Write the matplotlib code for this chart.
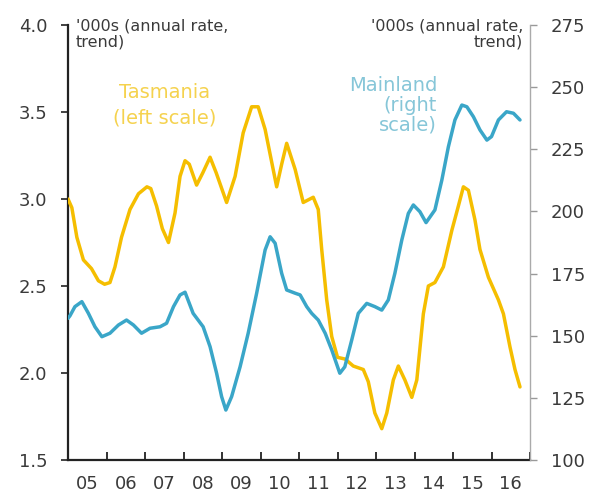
import matplotlib
matplotlib.use("Agg")
import matplotlib.pyplot as plt
from matplotlib.ticker import FixedLocator, NullFormatter, FixedFormatter

# Tasmania (left scale), '000s annual rate, trend
tas_x = [2005.00, 2005.10, 2005.23, 2005.40, 2005.61, 2005.79, 2005.95, 2006.09, 2006.22, 2006.39,
         2006.61, 2006.83, 2007.05, 2007.15, 2007.30, 2007.45, 2007.61, 2007.78, 2007.91, 2008.04,
         2008.15, 2008.34, 2008.50, 2008.69, 2008.85, 2009.12, 2009.34, 2009.55, 2009.77, 2009.94,
         2010.12, 2010.42, 2010.55, 2010.68, 2010.90, 2011.11, 2011.37, 2011.50, 2011.59, 2011.72,
         2011.85, 2012.00, 2012.20, 2012.41, 2012.67, 2012.80, 2012.97, 2013.15, 2013.28, 2013.45,
         2013.58, 2013.75, 2013.93, 2014.06, 2014.23, 2014.36, 2014.53, 2014.75, 2014.97, 2015.14,
         2015.27, 2015.40, 2015.57, 2015.70, 2015.92, 2016.18, 2016.31, 2016.48, 2016.61, 2016.74]
tas_y = [3.00, 2.95, 2.78, 2.65, 2.60, 2.53, 2.51, 2.52, 2.61, 2.78,
         2.94, 3.03, 3.07, 3.06, 2.96, 2.83, 2.75, 2.92, 3.13, 3.22,
         3.20, 3.08, 3.15, 3.24, 3.15, 2.98, 3.13, 3.38, 3.53, 3.53,
         3.40, 3.07, 3.20, 3.32, 3.17, 2.98, 3.01, 2.94, 2.71, 2.42,
         2.21, 2.09, 2.08, 2.04, 2.02, 1.95, 1.77, 1.68, 1.77, 1.96,
         2.04, 1.96, 1.86, 1.96, 2.34, 2.50, 2.52, 2.61, 2.82, 2.96,
         3.07, 3.05, 2.88, 2.71, 2.55, 2.42, 2.34, 2.15, 2.02, 1.92]

# Mainland (right scale)
main_x = [2005.00, 2005.05, 2005.18, 2005.36, 2005.53, 2005.70, 2005.88, 2006.09, 2006.31, 2006.52,
          2006.70, 2006.91, 2007.13, 2007.39, 2007.56, 2007.74, 2007.91, 2008.04, 2008.25, 2008.38,
          2008.51, 2008.69, 2008.86, 2008.99, 2009.10, 2009.25, 2009.47, 2009.68, 2009.90, 2010.12,
          2010.25, 2010.38, 2010.55, 2010.68, 2010.90, 2011.03, 2011.20, 2011.33, 2011.50, 2011.68,
          2011.85, 2012.06, 2012.19, 2012.37, 2012.54, 2012.76, 2012.97, 2013.15, 2013.32, 2013.49,
          2013.67, 2013.84, 2013.97, 2014.14, 2014.30, 2014.53, 2014.71, 2014.88, 2015.05, 2015.23,
          2015.36, 2015.53, 2015.70, 2015.88, 2016.00, 2016.18, 2016.39, 2016.57, 2016.74]
main_y = [157.0, 158.0, 161.7, 163.7, 159.0, 153.6, 149.6, 151.0, 154.3, 156.3,
          154.3, 151.0, 153.0, 153.6, 155.0, 161.7, 166.4, 167.5, 159.0, 156.3,
          153.6, 145.6, 134.9, 125.5, 120.1, 125.5, 137.5, 151.0, 167.1, 184.5,
          189.8, 187.2, 175.1, 168.4, 167.1, 166.4, 161.7, 159.0, 156.3, 151.0,
          144.3, 134.9, 137.5, 148.3, 159.0, 163.0, 161.7, 160.3, 164.4, 175.1,
          188.5, 199.2, 202.6, 199.9, 195.5, 200.6, 212.6, 226.0, 236.8, 242.8,
          242.1, 238.1, 232.8, 228.7, 230.1, 236.8, 240.1, 239.5, 236.8]

years = list(range(2005, 2018))
year_labels = ["05", "06", "07", "08", "09", "10", "11", "12", "13", "14", "15", "16"]
left_ticks = [1.5, 2.0, 2.5, 3.0, 3.5, 4.0]
right_ticks = [100, 125, 150, 175, 200, 225, 250, 275]

TAS = "#F5BE00"
MAIN = "#3AA6C8"
TXT = "#3a3a3a"

plt.rcParams['font.family'] = ['DejaVu Sans']

fig = plt.figure(figsize=(5.98, 4.97), dpi=100)
ax = fig.add_axes([68/598, 37/497, 462/598, 435/497])
ax2 = ax.twinx()

ax.plot(tas_x, tas_y, color=TAS, lw=2.5, solid_joinstyle='round', solid_capstyle='round', zorder=3)
ax2.plot(main_x, main_y, color=MAIN, lw=2.5, solid_joinstyle='round', solid_capstyle='round', zorder=3)

ax.set_xlim(2005, 2017)
ax.set_ylim(1.5, 4.0)
ax2.set_ylim(100, 275)

# x axis: ticks at year boundaries, labels mid-year
ax.xaxis.set_major_locator(FixedLocator(years))
ax.xaxis.set_major_formatter(NullFormatter())
ax.xaxis.set_minor_locator(FixedLocator([y + 0.5 for y in years[:-1]]))
ax.xaxis.set_minor_formatter(FixedFormatter(year_labels))
ax.tick_params(axis='x', which='major', direction='in', length=6, width=1.3, color='#222222')
ax.tick_params(axis='x', which='minor', length=0, pad=11, labelsize=13, labelcolor=TXT)

ax.set_yticks(left_ticks)
ax.set_yticklabels([f"{v:.1f}" for v in left_ticks])
ax.tick_params(axis='y', direction='out', length=5, width=1.2, color='#222222', labelsize=13,
               labelcolor=TXT, pad=10)

ax2.set_yticks(right_ticks)
ax2.set_yticklabels([str(v) for v in right_ticks])
ax2.tick_params(axis='y', direction='out', length=5, width=1.0, color='#999999', labelsize=13,
                labelcolor=TXT, pad=10)

for a in (ax, ax2):
    a.spines['top'].set_visible(False)
ax.spines['left'].set_color('#222222')
ax.spines['left'].set_linewidth(1.6)
ax.spines['bottom'].set_color('#222222')
ax.spines['bottom'].set_linewidth(1.6)
ax.spines['right'].set_visible(False)
ax2.spines['left'].set_visible(False)
ax2.spines['bottom'].set_visible(False)
ax2.spines['right'].set_color('#AAAAAA')
ax2.spines['right'].set_linewidth(1.0)

ax.text(0.017, 1.016, "'000s (annual rate,\ntrend)", transform=ax.transAxes, ha='left', va='top',
        fontsize=11.5, color=TXT, linespacing=1.1)
ax2.text(0.985, 1.016, "'000s (annual rate,\ntrend)", transform=ax.transAxes, ha='right', va='top',
         fontsize=11.5, color=TXT, linespacing=1.1, multialignment='right')

ax.text(0.21, 0.816, "Tasmania\n(left scale)", transform=ax.transAxes, ha='center', va='center',
        fontsize=14, color="#F5D24E", linespacing=1.4)
ax.text(0.799, 0.816, "Mainland\n(right\nscale)", transform=ax.transAxes, ha='right', va='center',
        fontsize=14, color="#86C6D8", linespacing=1.05, multialignment='right')

fig.savefig("out.png", dpi=100)
